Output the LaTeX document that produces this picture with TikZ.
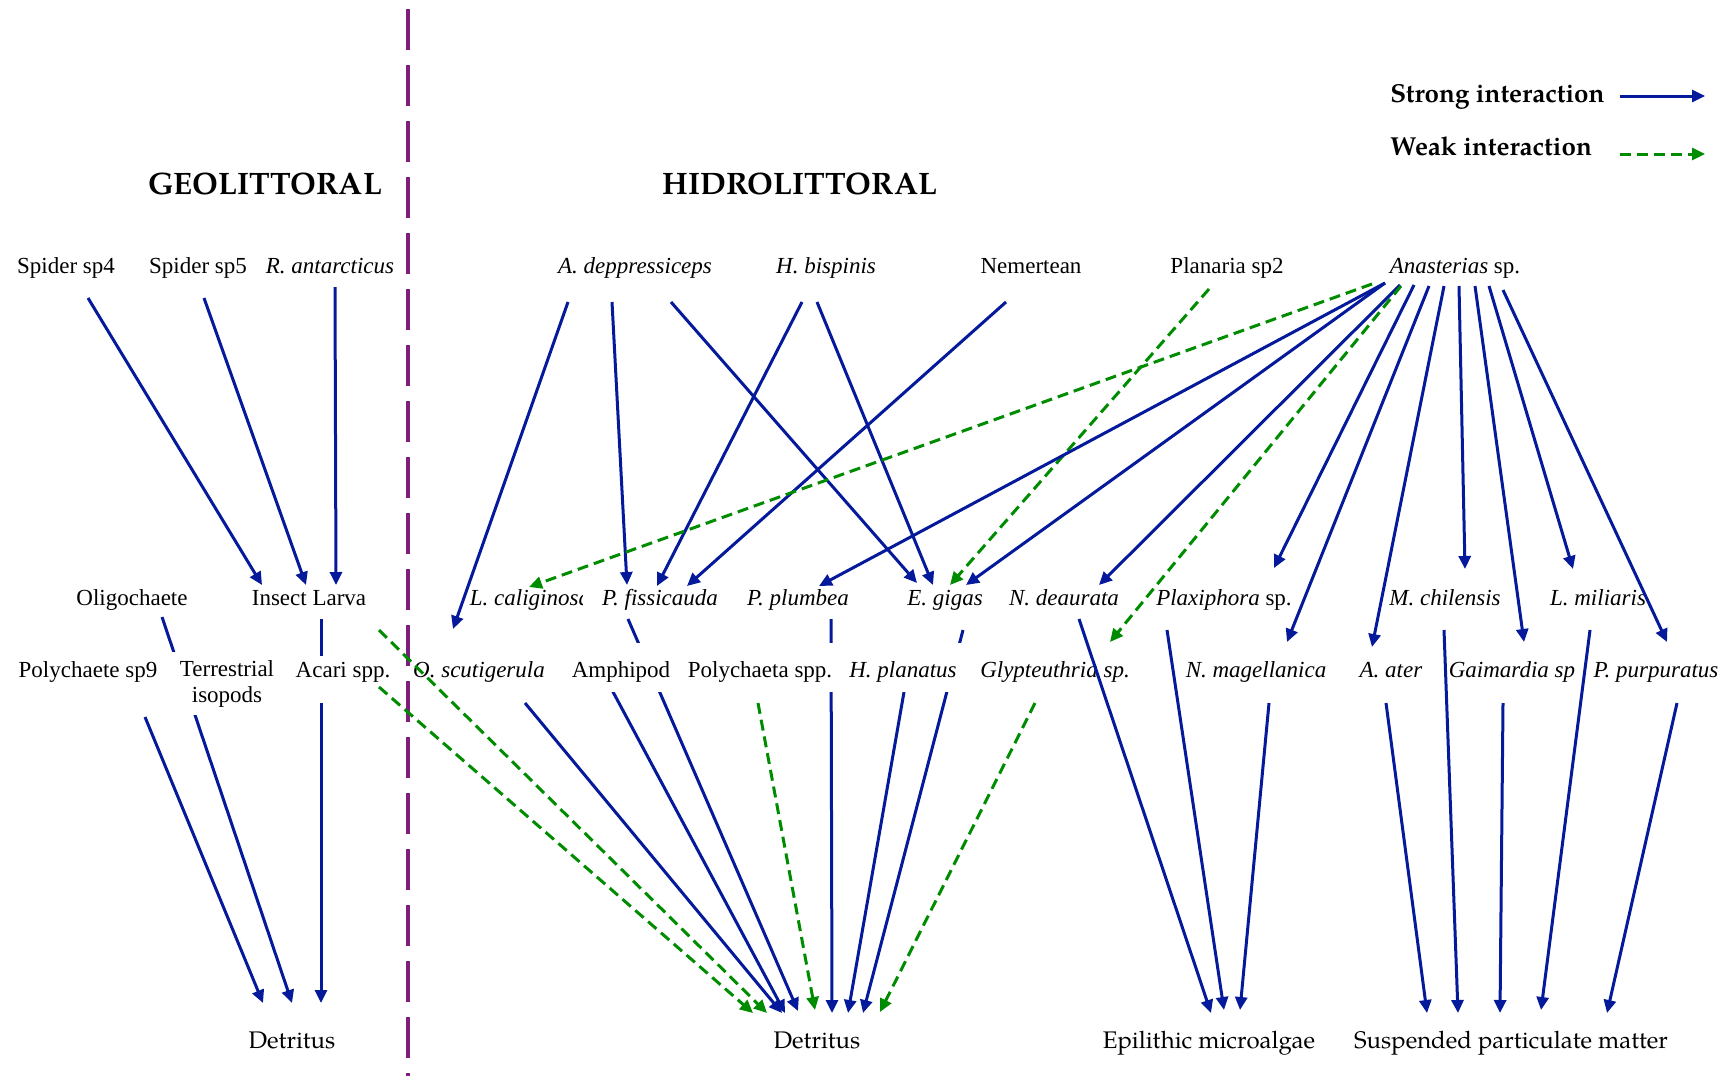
\documentclass[tikz,border=0pt]{standalone}
\usepackage{fontspec}
\setmainfont{Liberation Serif}
\newfontfamily\pal{texgyrepagella}[Extension=.otf,UprightFont=*-regular,BoldFont=*-bold,ItalicFont=*-italic,BoldItalicFont=*-bolditalic]
\usetikzlibrary{arrows.meta}
\definecolor{blu}{RGB}{5,25,155}
\definecolor{grn}{RGB}{0,140,0}
\definecolor{pur}{RGB}{125,30,125}
\pgfdeclarelayer{bg}\pgfdeclarelayer{fg}\pgfsetlayers{bg,main,fg}
\newcommand\lnk[5]{\draw[#1] ([shift={(#3)}]#2.base) -- ([shift={(#5)}]#4.base);}
\begin{document}
\begin{tikzpicture}[x=0.5pt,y=-0.5pt,
  lbl/.style={font=\fontsize{11.5}{13}\selectfont, inner sep=0pt, anchor=base},
  wbox/.style={fill=white},
  ttl/.style={font=\pal\bfseries\fontsize{15.5}{18}\selectfont, anchor=base, inner sep=0pt},
  leg/.style={font=\pal\bfseries\fontsize{13}{15}\selectfont, anchor=base west, inner sep=0pt},
  sink/.style={font=\pal\fontsize{12}{14}\selectfont, anchor=base, inner sep=0pt},
  strong/.style={draw=blu, line width=1.5pt, -{Triangle[length=6.5pt,width=6pt]}},
  weak/.style={draw=grn, line width=1.5pt, dash pattern=on 5.5pt off 3pt, -{Triangle[length=6.5pt,width=6pt]}},
  divider/.style={draw=pur, line width=2.1pt, dash pattern=on 20.5pt off 7.5pt}]
\useasboundingbox (0,0) rectangle (1727,1076);

\begin{pgfonlayer}{bg}
\draw[divider] (408,9) -- (408,1076);
% titles and legend
\node[ttl] (geo) at (265,194) {GEOLITTORAL};
\node[ttl] (hid) at (800,194) {HIDROLITTORAL};
\node[leg] (lgs) at (1390,102) {Strong interaction};
\node[leg] (lgw) at (1390,155) {Weak interaction};
% row 1
\node[lbl] (sp4) at (66,273) {Spider sp4};
\node[lbl] (sp5) at (198,273) {Spider sp5};
\node[lbl] (rant) at (330,273) {\textit{R. antarcticus}};
\node[lbl] (adep) at (635,273) {\textit{A. deppressiceps}};
\node[lbl] (hbis) at (826,273) {\textit{H. bispinis}};
\node[lbl] (nem) at (1031,273) {Nemertean};
\node[lbl] (plan) at (1227,273) {Planaria sp2};
\node[lbl] (anas) at (1455,273) {\textit{Anasterias} sp.};
% row 2
\node[lbl] (oligo) at (132,605) {Oligochaete};
\node[lbl] (larva) at (309,605) {Insect Larva};
\begin{scope}
\clip (0,0) rectangle (582,1076);
\node[lbl] (lcal) at (530,605) {\textit{L. caliginosa}};
\end{scope}
\node[lbl] (pfis) at (660,605) {\textit{P. fissicauda}};
\node[lbl] (pplu) at (798,605) {\textit{P. plumbea}};
\node[lbl] (egig) at (945,605) {\textit{E. gigas}};
\node[lbl] (ndea) at (1064,605) {\textit{N. deaurata}};
\node[lbl] (plax) at (1224,605) {\textit{Plaxiphora} sp.};
\node[lbl] (mchi) at (1445,605) {\textit{M. chilensis}};
\node[lbl] (lmil) at (1598,605) {\textit{L. miliaris}};
% row 3
\node[lbl] (poly9) at (88,677) {Polychaete sp9};
\node[lbl] (oscu) at (479,677) {\textit{O. scutigerula}};
\node[lbl] (glyp) at (1055,677) {\textit{Glypteuthria sp.}};
\node[lbl] (nmag) at (1256,677) {\textit{N. magellanica}};
\node[lbl] (aater) at (1391,677) {\textit{A. ater}};
\node[lbl] (gaim) at (1512,677) {\textit{Gaimardia sp}};
\node[lbl] (ppur) at (1656,677) {\textit{P. purpuratus}};
% sinks
\node[sink] (det1) at (292,1048) {Detritus};
\node[sink] (det2) at (817,1048) {Detritus};
\node[sink] (epil) at (1209,1048) {Epilithic microalgae};
\node[sink] (spm) at (1511,1048) {Suspended particulate matter};
\end{pgfonlayer}

\begin{pgfonlayer}{fg}
\node[lbl,wbox,align=center,anchor=north,inner xsep=8pt,inner ysep=4pt] (terr) at (227,652) {Terrestrial\\isopods};
\node[lbl,wbox,text height=10.5pt,text depth=13pt] (acari) at (343,677) {Acari spp.};
\node[lbl,wbox,text height=17pt,text depth=7.5pt] (amph) at (621,677) {Amphipod};
\node[lbl,wbox,text height=17pt,text depth=7.5pt,inner xsep=2pt] (polys) at (760,677) {Polychaeta spp.};
\node[lbl,wbox,text height=17pt,text depth=7.5pt,inner xsep=2pt] (hpla) at (903,677) {\textit{H. planatus}};
\end{pgfonlayer}

% legend arrows
\coordinate (ls1) at (1620,96); \coordinate (ls2) at (1705,96);
\coordinate (lw1) at (1620,154); \coordinate (lw2) at (1705,154);
\draw[strong] (ls1) -- (ls2);
\draw[weak] (lw1) -- (lw2);

% geolittoral
\lnk{strong}{sp4}{22,25}{larva}{-47,-20}
\lnk{strong}{sp5}{6,25}{larva}{-3,-20}
\lnk{strong}{rant}{5,14}{larva}{27,-20}
\lnk{strong}{oligo}{30,12}{det1}{0,-45}
\lnk{strong}{poly9}{57,40}{det1}{-29,-45}
\lnk{strong}{larva}{12,14}{det1}{29,-45}
\lnk{weak}{larva}{70,25}{det2}{-50,-35}
\begin{pgfonlayer}{fg}
\lnk{weak}{acari}{36,10}{det2}{-64,-35}
\end{pgfonlayer}
% hidrolittoral upper
\lnk{strong}{adep}{-67,29}{oscu}{-26,-48}
\lnk{strong}{adep}{-23,29}{pfis}{-33,-20}
\lnk{strong}{adep}{36,29}{egig}{-28,-22}
\lnk{strong}{hbis}{-24,29}{pfis}{-3,-19}
\lnk{strong}{hbis}{-9,29}{egig}{-12,-20}
\lnk{strong}{nem}{-25,29}{pfis}{27,-19}
\lnk{weak}{plan}{-18,16}{egig}{5,-20}
\lnk{weak}{anas}{-83,11}{lcal}{-1,-18}
\lnk{strong}{anas}{-70,10}{pplu}{21,-19}
\lnk{strong}{anas}{-70,10}{egig}{21,-20}
\lnk{strong}{anas}{-55,12}{ndea}{35,-20}
\lnk{weak}{anas}{-54,13}{glyp}{55,-35}
\lnk{strong}{anas}{-41,12}{plax}{50,-37}
\lnk{strong}{anas}{-26,13}{nmag}{31,-35}
\lnk{strong}{anas}{-11,13}{aater}{-19,-30}
\lnk{strong}{anas}{4,13}{mchi}{20,-36}
\lnk{strong}{anas}{20,13}{gaim}{12,-35}
\lnk{strong}{anas}{34,13}{lmil}{-25,-36}
\lnk{strong}{anas}{48,17}{ppur}{11,-35}
% hidrolittoral lower
\lnk{strong}{oscu}{46,26}{det2}{-35,-35}
\lnk{strong}{amph}{-9,13}{det2}{-32,-35}
\lnk{strong}{pfis}{-32,14}{det2}{-19,-37}
\lnk{weak}{polys}{-2,26}{det2}{-2,-38}
\lnk{strong}{pplu}{33,14}{det2}{15,-35}
\lnk{strong}{hpla}{1,15}{det2}{31,-35}
\lnk{strong}{egig}{18,25}{det2}{46,-35}
\lnk{weak}{glyp}{-20,26}{det2}{63,-36}
\lnk{strong}{ndea}{15,14}{epil}{2,-35}
\lnk{strong}{plax}{-57,25}{epil}{15,-38}
\lnk{strong}{nmag}{13,26}{epil}{31,-38}
\lnk{strong}{aater}{-5,26}{spm}{-84,-35}
\lnk{strong}{mchi}{-1,25}{spm}{-53,-35}
\lnk{strong}{gaim}{-9,26}{spm}{-11,-35}
\lnk{strong}{lmil}{-8,25}{spm}{30,-38}
\lnk{strong}{ppur}{21,26}{spm}{96,-35}
\end{tikzpicture}
\end{document}
